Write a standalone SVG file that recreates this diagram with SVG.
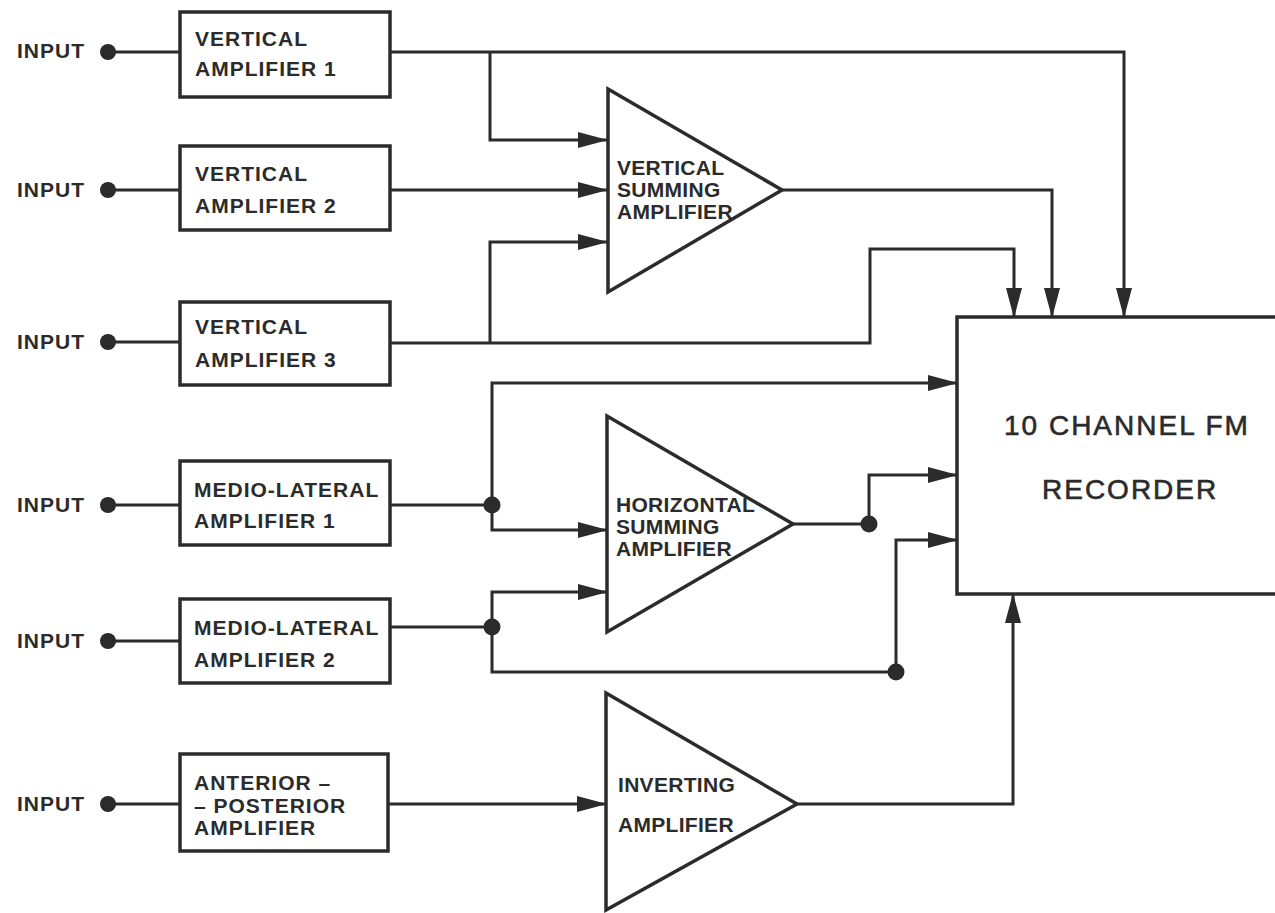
<svg xmlns="http://www.w3.org/2000/svg" width="1275" height="913" viewBox="0 0 1275 913">
<style>
.bg{fill:#ffffff}
.box{fill:#ffffff;stroke:#2b2b2b;stroke-width:3.5}
.tri{fill:#ffffff;stroke:#2b2b2b;stroke-width:3.5;stroke-linejoin:miter}
.ln{fill:none;stroke:#2b2b2b;stroke-width:3}
.arr{fill:none;stroke:#2b2b2b;stroke-width:3;marker-end:url(#ah)}
.dot{fill:#2b2b2b}
.t{font-family:"Liberation Sans",Arial,sans-serif;font-weight:bold;font-size:21px;fill:#2b2b2b;letter-spacing:1px}
.tt{font-family:"Liberation Sans",Arial,sans-serif;font-weight:bold;font-size:21px;fill:#2b2b2b;letter-spacing:0.3px}
.big{font-family:"Liberation Sans",Arial,sans-serif;font-size:28px;fill:#2b2b2b;stroke:#2b2b2b;stroke-width:0.6;letter-spacing:2px}
</style>
<defs>
<marker id="ah" markerUnits="userSpaceOnUse" markerWidth="31" markerHeight="17" refX="29" refY="8" orient="auto">
<path d="M0,0 L30,8 L0,16 Z" fill="#2b2b2b"/>
</marker>
</defs>
<rect class="bg" x="0" y="0" width="1275" height="913"/>

<g id="connectors">
<line class="ln" x1="108" y1="52" x2="180" y2="52"/>
<line class="ln" x1="108" y1="190" x2="180" y2="190"/>
<line class="ln" x1="108" y1="342" x2="180" y2="342"/>
<line class="ln" x1="108" y1="505" x2="180" y2="505"/>
<line class="ln" x1="108" y1="641" x2="180" y2="641"/>
<line class="ln" x1="108" y1="804" x2="180" y2="804"/>
<circle class="dot" cx="108" cy="52" r="8"/>
<circle class="dot" cx="108" cy="190" r="8"/>
<circle class="dot" cx="108" cy="342" r="8"/>
<circle class="dot" cx="108" cy="505" r="8"/>
<circle class="dot" cx="108" cy="641" r="8"/>
<circle class="dot" cx="108" cy="804" r="8"/>
<polyline class="arr" points="390,52 1124,52 1124,317"/>
<polyline class="arr" points="490,52 490,140 607,140"/>
<polyline class="arr" points="390,190 607,190"/>
<polyline class="arr" points="390,343 870,343 870,249 1014,249 1014,317"/>
<polyline class="arr" points="490,343 490,242 607,242"/>
<polyline class="arr" points="782,190 1052,190 1052,317"/>
<polyline class="ln" points="390,505 492,505"/>
<polyline class="arr" points="492,505 492,383 957,383"/>
<polyline class="arr" points="492,505 492,530 607,530"/>
<circle class="dot" cx="492" cy="505" r="8.5"/>
<polyline class="ln" points="793,524 869,524"/>
<polyline class="arr" points="869,524 869,475 957,475"/>
<circle class="dot" cx="869" cy="524" r="8.5"/>
<polyline class="ln" points="390,627 492,627"/>
<polyline class="arr" points="492,627 492,592 607,592"/>
<polyline class="ln" points="492,627 492,672 896,672"/>
<polyline class="arr" points="896,672 896,540 957,540"/>
<circle class="dot" cx="492" cy="627" r="8.5"/>
<circle class="dot" cx="896" cy="672" r="8.5"/>
<polyline class="arr" points="388,804 606,804"/>
<polyline class="arr" points="797,804 1013,804 1013,594"/>
</g>

<g id="input-labels">
<text class="t" x="17" y="58" letter-spacing="0.5">INPUT</text>
<text class="t" x="17" y="197" letter-spacing="0.5">INPUT</text>
<text class="t" x="17" y="349" letter-spacing="0.5">INPUT</text>
<text class="t" x="17" y="512" letter-spacing="0.5">INPUT</text>
<text class="t" x="17" y="648" letter-spacing="0.5">INPUT</text>
<text class="t" x="17" y="811" letter-spacing="0.5">INPUT</text>
</g>

<g id="vertical-amplifier-1">
<rect class="box" x="180" y="12" width="210" height="85"/>
<text class="t" x="195" y="46">VERTICAL</text>
<text class="t" x="195" y="76">AMPLIFIER 1</text>
</g>
<g id="vertical-amplifier-2">
<rect class="box" x="180" y="146" width="210" height="84"/>
<text class="t" x="195" y="181">VERTICAL</text>
<text class="t" x="195" y="213">AMPLIFIER 2</text>
</g>
<g id="vertical-amplifier-3">
<rect class="box" x="180" y="302" width="210" height="83"/>
<text class="t" x="195" y="334">VERTICAL</text>
<text class="t" x="195" y="367">AMPLIFIER 3</text>
</g>
<g id="medio-lateral-amplifier-1">
<rect class="box" x="180" y="461" width="210" height="84"/>
<text class="t" x="194" y="497">MEDIO-LATERAL</text>
<text class="t" x="194" y="528">AMPLIFIER 1</text>
</g>
<g id="medio-lateral-amplifier-2">
<rect class="box" x="180" y="599" width="210" height="84"/>
<text class="t" x="194" y="635">MEDIO-LATERAL</text>
<text class="t" x="194" y="667">AMPLIFIER 2</text>
</g>
<g id="anterior-posterior-amplifier">
<rect class="box" x="180" y="754" width="208" height="97"/>
<text class="t" x="194" y="790">ANTERIOR –</text>
<text class="t" x="194" y="813">– POSTERIOR</text>
<text class="t" x="194" y="835" letter-spacing="1.6">AMPLIFIER</text>
</g>

<g id="vertical-summing-amplifier">
<polygon class="tri" points="608,89 608,292 782,190"/>
<text class="tt" x="617" y="175">VERTICAL</text>
<text class="tt" x="617" y="197">SUMMING</text>
<text class="tt" x="617" y="219">AMPLIFIER</text>
</g>
<g id="horizontal-summing-amplifier">
<polygon class="tri" points="607,416 607,632 793,524"/>
<text class="tt" x="616" y="512" font-size="20" letter-spacing="0.4">HORIZONTAL</text>
<text class="tt" x="616" y="534" font-size="20" letter-spacing="0.6">SUMMING</text>
<text class="tt" x="616" y="556" font-size="20" letter-spacing="0.6">AMPLIFIER</text>
</g>
<g id="inverting-amplifier">
<polygon class="tri" points="606,693 606,910 797,804"/>
<text class="tt" x="618" y="792" letter-spacing="1.1">INVERTING</text>
<text class="tt" x="618" y="832" letter-spacing="1">AMPLIFIER</text>
</g>

<g id="fm-recorder">
<rect class="box" x="957" y="317" width="330" height="277"/>
<text class="big" x="1004" y="435">10 CHANNEL  FM</text>
<text class="big" x="1042" y="499">RECORDER</text>
</g>
</svg>
